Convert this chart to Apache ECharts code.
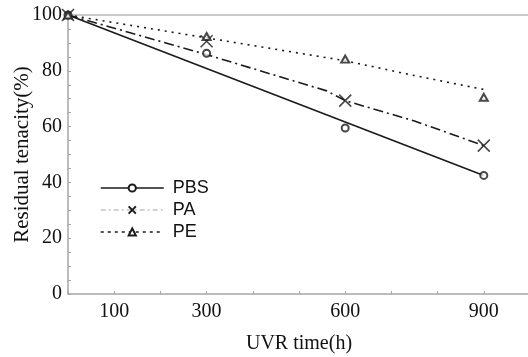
<!DOCTYPE html>
<html>
<head>
<meta charset="utf-8">
<script src="https://cdn.jsdelivr.net/npm/echarts@6.0.0/dist/echarts.min.js"></script>
<style>
  html, body { margin: 0; padding: 0; background: #fff; }
  #chart { width: 528px; height: 357px; }
</style>
</head>
<body>
<div id="chart"></div>
<script>
// labelled x ticks (hours)
const xLabels = [100, 300, 600, 900];

// measured points
const pbsPts = [[0, 100], [300, 86.3], [600, 59.5], [900, 42.5]];
const paPts = [[0, 100], [300, 90.6], [600, 69.3], [900, 53.2]];
const pePts = [[0, 100], [300, 92.3], [600, 84.2], [900, 70.5]];

// trend lines as drawn in the figure
const pbsFit = [[0, 100], [900, 42.5]];
const paFit = [[0, 100], [300, 85.8], [560, 72.8], [600, 69.3], [750, 62], [900, 53.2]];
const peFit = [[0, 100], [300, 91.8], [600, 83.6], [750, 78.3], [900, 73.3]];

const ink = "#1a1a1a";
const axisGray = "#a6a6a6";
const serif = "'Liberation Serif', 'DejaVu Serif', serif";
const sans = "'Liberation Sans', Arial, sans-serif";
const xMark = "path://M0,0L10,10M0,10L10,0";

const chart = echarts.init(document.getElementById("chart"));

chart.setOption({
  backgroundColor: "#fff",
  animation: false,
  grid: { left: 68, top: 15, width: 462, height: 279, outerBoundsMode: "none", containLabel: false },
  legend: {
    orient: "vertical",
    left: 95,
    top: 174,
    itemWidth: 63,
    itemHeight: 9,
    itemGap: 4,
    textStyle: { color: "#111", fontFamily: sans, fontSize: 18, padding: [0, 0, 0, 4] },
    data: [
      { name: "PBS", lineStyle: { color: ink, width: 1.5, type: "solid" } },
      { name: "PA", lineStyle: { color: "#c4c4c4", width: 1.5, type: [5, 3, 2, 3] } },
      { name: "PE", lineStyle: { color: ink, width: 1.5, type: [3, 4] } }
    ]
  },
  xAxis: [
    {
      type: "value",
      min: 0,
      max: 1000,
      interval: 100,
      name: "UVR time(h)",
      nameLocation: "middle",
      nameGap: 40,
      nameMoveOverlap: false,
      nameTextStyle: { color: "#111", fontFamily: serif, fontSize: 20 },
      axisLine: { lineStyle: { color: axisGray, width: 1.5 } },
      axisTick: { inside: true, length: 3, lineStyle: { color: axisGray } },
      axisLabel: {
        color: "#111", fontFamily: serif, fontSize: 20, margin: 8,
        formatter: v => (xLabels.includes(v) ? String(v) : "")
      },
      splitLine: { show: false }
    },
    {
      type: "value",
      position: "top",
      min: 0,
      max: 1000,
      axisLine: { show: true, lineStyle: { color: "#b8b8b8", width: 1.5 } },
      axisTick: { show: false },
      axisLabel: { show: false },
      splitLine: { show: false }
    }
  ],
  yAxis: {
    type: "value",
    min: 0,
    max: 100,
    interval: 5,
    name: "Residual tenacity(%)",
    nameLocation: "middle",
    nameGap: 35,
    nameMoveOverlap: false,
    nameTextStyle: { color: "#111", fontFamily: serif, fontSize: 21 },
    axisLine: { show: true, lineStyle: { color: axisGray, width: 1.5 } },
    axisTick: { show: true, inside: true, length: 3, lineStyle: { color: axisGray } },
    axisLabel: {
      color: "#111", fontFamily: serif, fontSize: 20, margin: 6,
      formatter: v => (v % 20 === 0 ? String(v) : "")
    },
    splitLine: { show: false }
  },
  series: [
    {
      name: "PBS", type: "line", data: pbsFit, showSymbol: false,
      symbol: "emptyCircle",
      itemStyle: { color: ink, borderColor: ink, borderWidth: 1.5 },
      lineStyle: { color: ink, width: 1.6 }
    },
    {
      name: "PA", type: "line", data: paFit, showSymbol: false,
      symbol: xMark,
      itemStyle: { color: "none", borderColor: ink, borderWidth: 1.5 },
      lineStyle: { color: ink, width: 1.6, type: [10, 4, 2, 4] }
    },
    {
      name: "PE", type: "line", data: peFit, showSymbol: false,
      symbol: "emptyTriangle",
      itemStyle: { color: ink, borderColor: ink, borderWidth: 1.5 },
      lineStyle: { color: ink, width: 1.6, type: [2, 5] }
    },
    {
      name: "PBS", type: "scatter", data: pbsPts, symbol: "emptyCircle", symbolSize: 7,
      itemStyle: { color: ink, borderWidth: 1.6 }, z: 5
    },
    {
      name: "PA", type: "scatter", data: paPts, symbol: xMark, symbolSize: 12,
      itemStyle: { color: "none", borderColor: ink, borderWidth: 1.6 }, z: 5
    },
    {
      name: "PE", type: "scatter", data: pePts, symbol: "emptyTriangle", symbolSize: [8, 7],
      itemStyle: { color: ink, borderWidth: 1.6 }, z: 5
    }
  ]
});
</script>
</body>
</html>
